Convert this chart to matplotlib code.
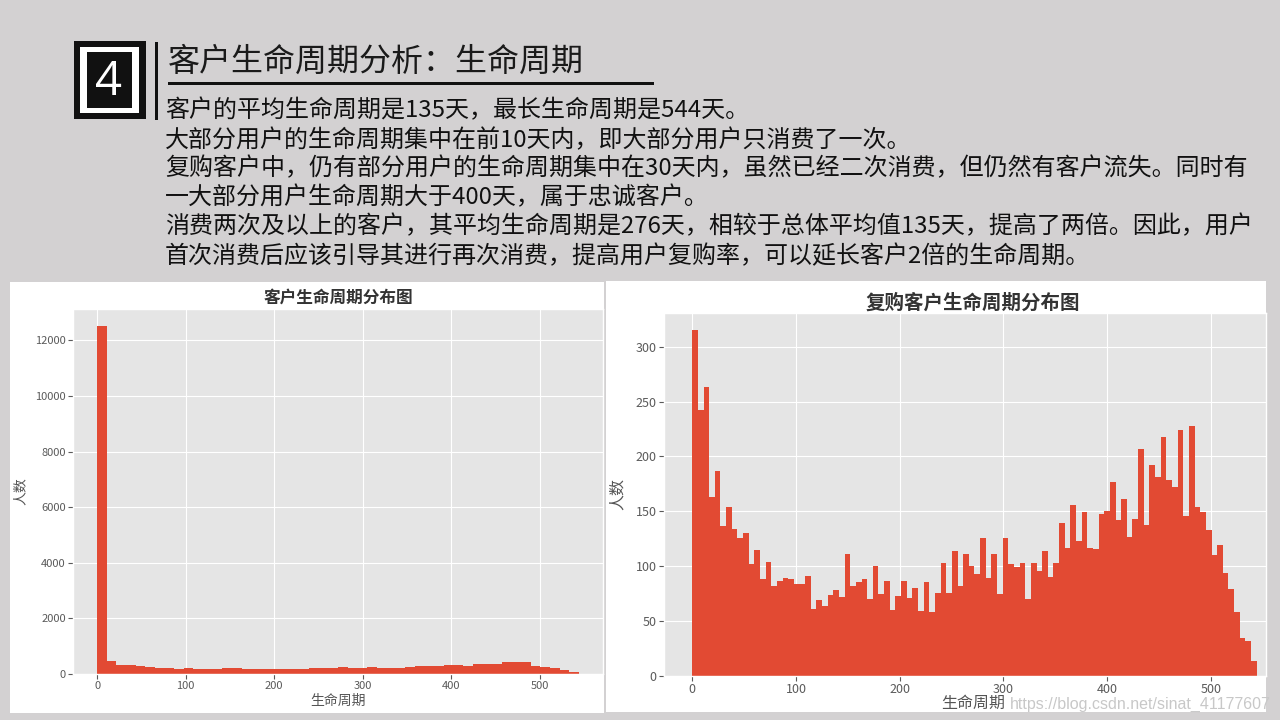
import numpy as np
import matplotlib
matplotlib.use('Agg')
import matplotlib.pyplot as plt
from matplotlib.patches import Rectangle

# ---- data ----
title_main = "客户生命周期分析：生命周期"
body_lines = [
    "客户的平均生命周期是135天，最长生命周期是544天。",
    "大部分用户的生命周期集中在前10天内，即大部分用户只消费了一次。",
    "复购客户中，仍有部分用户的生命周期集中在30天内，虽然已经二次消费，但仍然有客户流失。同时有",
    "一大部分用户生命周期大于400天，属于忠诚客户。",
    "消费两次及以上的客户，其平均生命周期是276天，相较于总体平均值135天，提高了两倍。因此，用户",
    "首次消费后应该引导其进行再次消费，提高用户复购率，可以延长客户2倍的生命周期。",
]

max_lifetime = 544

# all customers, 50 bins over 0..544
all_counts = [
    12500, 468, 336, 336, 300, 252, 216, 216, 180, 228,
    180, 180, 180, 228, 228, 180, 180, 180, 180, 180,
    180, 180, 228, 228, 228, 252, 216, 216, 252, 216,
    216, 216, 264, 300, 300, 300, 336, 336, 300, 372,
    372, 372, 420, 420, 420, 300, 264, 216, 144, 60,
]

# repeat customers, 100 bins over 0..544
repeat_counts = [
    315, 242, 263, 163, 187, 137, 154, 134, 126, 130,
    102, 115, 88, 104, 82, 87, 89, 88, 84, 84,
    91, 61, 69, 64, 74, 78, 72, 111, 82, 86,
    88, 70, 100, 75, 87, 60, 73, 87, 71, 80,
    59, 86, 58, 76, 103, 76, 114, 82, 111, 100,
    93, 126, 89, 111, 75, 126, 102, 99, 103, 70,
    103, 96, 114, 90, 103, 139, 117, 156, 123, 149,
    117, 116, 148, 150, 177, 142, 161, 127, 143, 207,
    138, 192, 181, 218, 179, 172, 224, 146, 228, 154,
    149, 133, 110, 119, 94, 79, 58, 35, 32, 14,
]

left_title = "客户生命周期分布图"
right_title = "复购客户生命周期分布图"
x_label = "生命周期"
y_label = "人数"
watermark = "https://blog.csdn.net/sinat_41177607"

# ---- style ----
plt.style.use('ggplot')
plt.rcParams['font.family'] = ['Noto Sans CJK SC', 'DejaVu Sans']
plt.rcParams['axes.unicode_minus'] = False

W, H = 1280, 720
BG = '#d3d1d2'
fig = plt.figure(figsize=(W / 100, H / 100), dpi=100, facecolor=BG)


def fx(x):
    return x / W


def fy(y):
    return 1 - y / H


def add_rect(x0, y0, x1, y1, color, z=1):
    fig.add_artist(Rectangle((fx(x0), fy(y1)), (x1 - x0) / W, (y1 - y0) / H,
                             transform=fig.transFigure, facecolor=color,
                             edgecolor='none', zorder=z))


# ---- header ----
add_rect(74, 41, 146, 119, '#111111')
add_rect(80, 47, 139, 113, 'white')
add_rect(87, 52, 132, 108, '#111111')
fig.text(fx(109), fy(82), "4", color='white', fontsize=34, family='Open Sans',
         ha='center', va='center')
add_rect(155, 42, 158, 120, '#111111')

fig.text(fx(168), fy(62), title_main, fontsize=23, color='#1a1a1a',
         ha='left', va='center')
add_rect(168, 82, 654, 85, '#111111')

for i, line in enumerate(body_lines):
    fig.text(fx(165), fy(111 + 29 * i), line, fontsize=17.25, color='#111111',
             ha='left', va='center')

# ---- white panels behind the charts ----
add_rect(10, 282, 604, 713, 'white', z=-1)
add_rect(606, 281, 1266, 712, 'white', z=-1)

# ---- left chart ----
edges_all = np.linspace(0, max_lifetime, len(all_counts) + 1)
ax1 = fig.add_axes([fx(73), fy(674), 530 / W, 365 / H])
ax1.hist(edges_all[:-1], bins=edges_all, weights=all_counts, color='#E24A33')
ax1.tick_params(labelsize=8, colors='#5a5a5a', pad=1.6)
ax1.text(0.5, 1 + 11 / 365, left_title, transform=ax1.transAxes, ha='center',
         va='center', fontsize=12, fontweight='bold', color='#333333')
ax1.set_xlabel(x_label, fontsize=10, color='#555555')
ax1.xaxis.label.set_va('center')
ax1.xaxis.set_label_coords(0.5, -27 / 365)
ax1.set_ylabel(y_label, fontsize=10, color='#555555')
ax1.yaxis.label.set_va('center')
ax1.yaxis.set_label_coords(-52 / 530, 0.5)

# ---- right chart ----
edges_rep = np.linspace(0, max_lifetime, len(repeat_counts) + 1)
ax2 = fig.add_axes([fx(664), fy(676), 602 / W, 363 / H])
ax2.hist(edges_rep[:-1], bins=edges_rep, weights=repeat_counts, color='#E24A33')
ax2.set_xlim(-27.2, 553)
ax2.set_yticks(np.arange(0, 301, 50))
ax2.tick_params(labelsize=9, colors='#5a5a5a', pad=1.8)
ax2.text(0.513, 1 + 10 / 363, right_title, transform=ax2.transAxes, ha='center',
         va='center', fontsize=14, fontweight='bold', color='#333333')
ax2.set_xlabel(x_label, fontsize=11.5, color='#555555')
ax2.xaxis.label.set_va('center')
ax2.xaxis.set_label_coords(0.513, -27 / 363)
ax2.set_ylabel(y_label, fontsize=11.5, color='#555555')
ax2.yaxis.label.set_va('center')
ax2.yaxis.set_label_coords(-47 / 602, 0.5)

fig.text(fx(1010), fy(704), watermark, family='Liberation Sans', fontsize=11.5,
         color='#c8c8c8', ha='left', va='center')

fig.savefig('out.png', dpi=100, facecolor=fig.get_facecolor())
